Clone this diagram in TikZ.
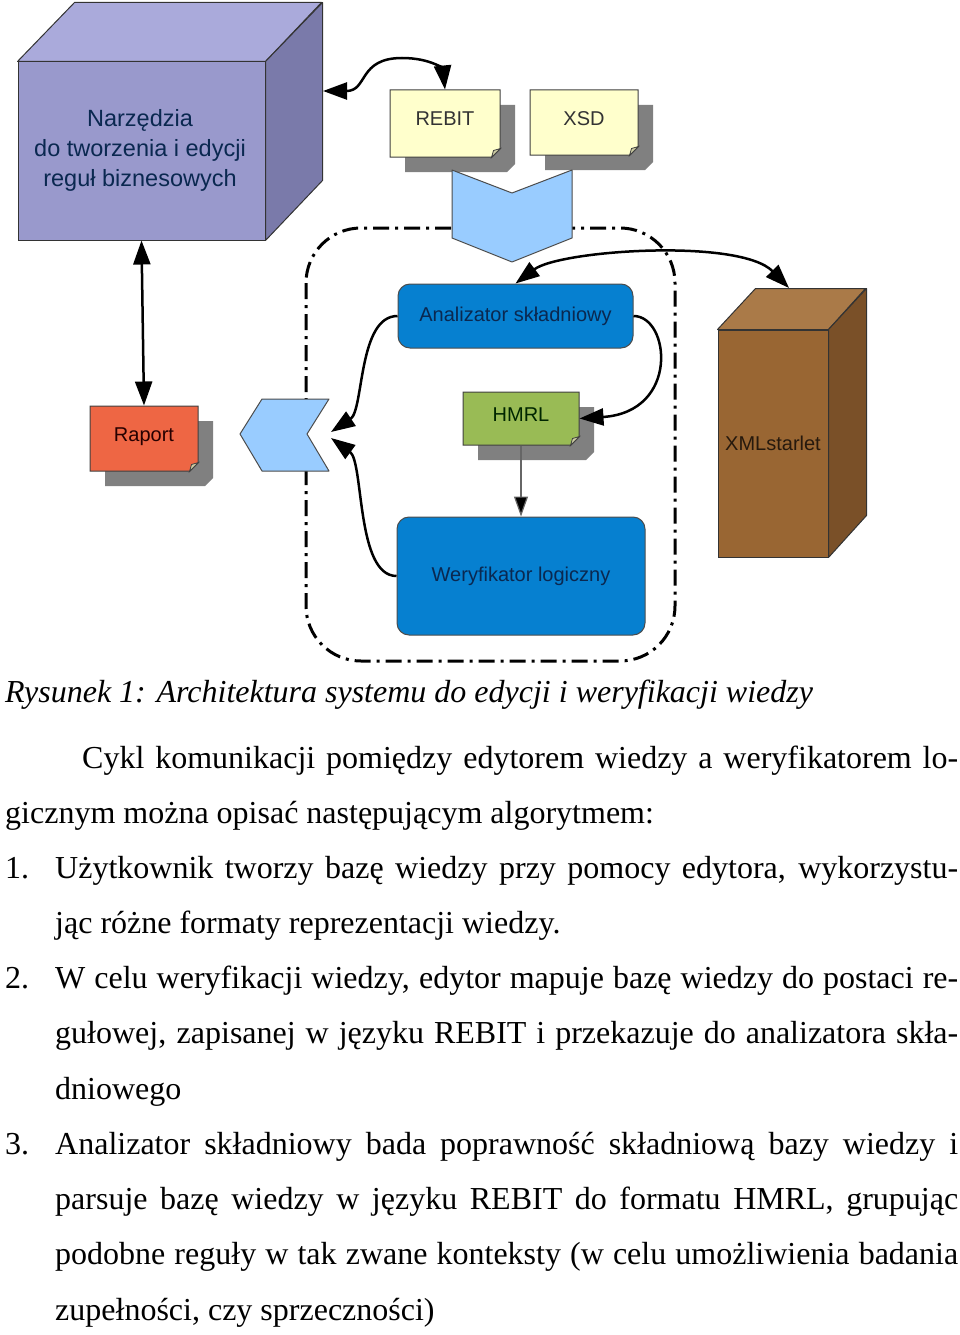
\documentclass[tikz,border=0pt]{standalone}
\usepackage{fontspec}
\setmainfont{Liberation Serif}
\newfontfamily\diagfont{Liberation Sans}
\usetikzlibrary{arrows.meta,shapes.misc,shadows,calc}

\definecolor{cubefront}{HTML}{9999CC}
\definecolor{cubetop}{HTML}{AAAADB}
\definecolor{cubeside}{HTML}{7A7AAA}
\definecolor{notefill}{HTML}{FFFFCC}
\definecolor{raportfill}{HTML}{EE6644}
\definecolor{hmrlfill}{HTML}{99BB55}
\definecolor{procfill}{HTML}{0680D0}
\definecolor{chevfill}{HTML}{99CCFF}
\definecolor{boxfront}{HTML}{996633}
\definecolor{boxtop}{HTML}{AA7A48}
\definecolor{boxside}{HTML}{7A5028}
\definecolor{shadowgray}{HTML}{808080}
\definecolor{navytext}{HTML}{0A2850}

\tikzset{
  note/.style={chamfered rectangle, chamfered rectangle corners=south east,
    chamfered rectangle xsep=4pt, chamfered rectangle ysep=4pt,
    draw=black!75, line width=1pt, inner sep=0pt, text=black!80,
    text height=15pt, text depth=10pt,
    font=\diagfont\fontsize{20}{24}\selectfont,
    general shadow={fill=shadowgray, shadow xshift=15pt, shadow yshift=-15pt}},
  proc/.style={rectangle, rounded corners=12pt, draw=black!70, line width=1pt,
    fill=procfill, text=navytext, inner sep=0pt, font=\diagfont\fontsize{20}{24}\selectfont},
  solid3d/.style={rectangle, draw=black!80, line width=1pt, inner sep=0pt},
  face/.style={draw=black!80, line width=1pt, line join=round},
  chev/.style={draw=black!70, line width=1pt, fill=chevfill, line join=round},
  fold/.style={draw=black!75, line width=0.8pt, fill=notefill!80!black},
  link/.style={line width=2.5pt, {Triangle[length=24pt,width=17pt]}-{Triangle[length=24pt,width=17pt]}},
  arr/.style={line width=2.5pt, -{Triangle[length=24pt,width=17pt]}},
  txt/.style={anchor=base west, inner sep=0pt, font=\fontsize{32}{38}\selectfont}
}

\begin{document}
\begin{tikzpicture}[x=1pt, y=-1pt]
  \useasboundingbox (0,0) rectangle (960,1335);
  % Draw the dash-dotted frame round the verification part
  \draw[line width=3pt, dash pattern=on 16pt off 6pt on 3pt off 6pt,
        rounded corners=55pt] (306,228) rectangle (675,661);

  % Draw the editing tools block
  \node[solid3d, fill=cubefront, minimum width=247pt, minimum height=178pt] (tools) at (141.5,151) {};
  \filldraw[face, fill=cubetop] (tools.north west) -- ++(57,-59) -- ++(247,0) -- (tools.north east) -- cycle;
  \filldraw[face, fill=cubeside] (tools.north east) -- ++(57,-59) -- ++(0,178) -- (tools.south east) -- cycle;
  \node[align=center, text=navytext, font=\diagfont\fontsize{23.5}{30}\selectfont] (toolstxt) at (140,150)
    {Narzędzia\\do tworzenia i edycji\\reguł biznesowych};

  % Draw the XMLstarlet block
  \node[solid3d, fill=boxfront, minimum width=110pt, minimum height=227pt] (xml) at (773,443.5) {};
  \filldraw[face, fill=boxtop] (xml.north west) -- ++(38,-41) -- ++(110,0) -- (xml.north east) -- cycle;
  \filldraw[face, fill=boxside] (xml.north east) -- ++(38,-41) -- ++(0,227) -- (xml.south east) -- cycle;
  \node[text=black!80!brown, font=\diagfont\fontsize{20}{24}\selectfont] (xmltxt) at (773,443) {XMLstarlet};
  \coordinate (xmltop) at (789,288);

  % Draw the notes
  \node[note, fill=notefill, minimum width=110pt, minimum height=67pt] (rebit) at (445,123.5) {REBIT};
  \node[note, fill=notefill, minimum width=108pt, minimum height=65pt] (xsd) at (584,122.5) {XSD};
  \node[note, fill=hmrlfill, text=black!85!green, minimum width=116pt, minimum height=53pt] (hmrl) at (521,418.5) {HMRL};
  \node[note, fill=raportfill, text=black!85!red, minimum width=108pt, minimum height=65pt] (raport) at (144,438.5) {Raport};
  \foreach \n in {rebit,xsd,hmrl,raport}
    \filldraw[fold] ($(\n.east |- \n.south)+(-9pt,0pt)$) -- ++(2pt,7pt) -- ($(\n.east |- \n.south)+(0pt,9pt)$) -- cycle;

  % Draw the chevrons
  \filldraw[chev] (452,170) -- (512,193) -- (572,170) -- (572,238) -- (512,262) -- (452,238) -- cycle;
  \filldraw[chev] (240,434) -- (262,399) -- (329,399) -- (307,434) -- (329,471) -- (262,471) -- cycle;
  \coordinate (notchA) at (331,432);
  \coordinate (notchB) at (331,438);
  \coordinate (toolsR) at (323,91);

  % Draw the processing blocks
  \node[proc, minimum width=235pt, minimum height=64pt] (anal) at (515.5,316) {Analizator składniowy};
  \node[proc, minimum width=248pt, minimum height=118pt] (wer) at (521,576) {Weryfikator logiczny};

  % Draw the connections
  \draw[link] (toolsR) .. controls (368,91) and (358,58) .. (402,58) .. controls (432,58) and (443,70) .. (rebit.north);
  \draw[link] (tools.south) -- (raport.north);
  \draw[link] (anal.north) .. controls (560,250) and (740,238) .. (xmltop);
  \draw[arr] (anal.east) .. controls (670,316) and (680,412) .. (hmrl.east);
  \draw[arr] (anal.west) .. controls (358,316) and (364,410) .. (notchA);
  \draw[arr] (wer.west) .. controls (356,576) and (364,462) .. (notchB);
  \draw[line width=1.2pt, draw=black!60, -{Triangle[length=20pt,width=14pt,fill=black]}] (hmrl.south) -- (wer.north);

  % Caption and text
  \node[txt] (cap) at (5,702) {\itshape Rysunek 1: Architektura systemu do edycji i weryfikacji wiedzy};
  \node[txt] (p1a) at (82,768) {\makebox[876pt][s]{Cykl komunikacji pomiędzy edytorem wiedzy a weryfikatorem lo-}};
  \node[txt] (p1b) at (5,823) {gicznym można opisać następującym algorytmem:};
  \node[txt] (n1) at (5,878) {1.};
  \node[txt] (i1a) at (55,878) {\makebox[903pt][s]{Użytkownik tworzy bazę wiedzy przy pomocy edytora, wykorzystu-}};
  \node[txt] (i1b) at (55,933) {jąc różne formaty reprezentacji wiedzy.};
  \node[txt] (n2) at (5,988) {2.};
  \node[txt] (i2a) at (55,988) {\makebox[903pt][s]{W celu weryfikacji wiedzy, edytor mapuje bazę wiedzy do postaci re-}};
  \node[txt] (i2b) at (55,1043) {\makebox[903pt][s]{gułowej, zapisanej w języku REBIT i przekazuje do analizatora skła-}};
  \node[txt] (i2c) at (55,1099) {dniowego};
  \node[txt] (n3) at (5,1154) {3.};
  \node[txt] (i3a) at (55,1154) {\makebox[903pt][s]{Analizator składniowy bada poprawność składniową bazy wiedzy i}};
  \node[txt] (i3b) at (55,1209) {\makebox[903pt][s]{parsuje bazę wiedzy w języku REBIT do formatu HMRL, grupując}};
  \node[txt] (i3c) at (55,1264) {\makebox[903pt][s]{podobne reguły w tak zwane konteksty (w celu umożliwienia badania}};
  \node[txt] (i3d) at (55,1320) {zupełności, czy sprzeczności)};
\end{tikzpicture}
\end{document}
